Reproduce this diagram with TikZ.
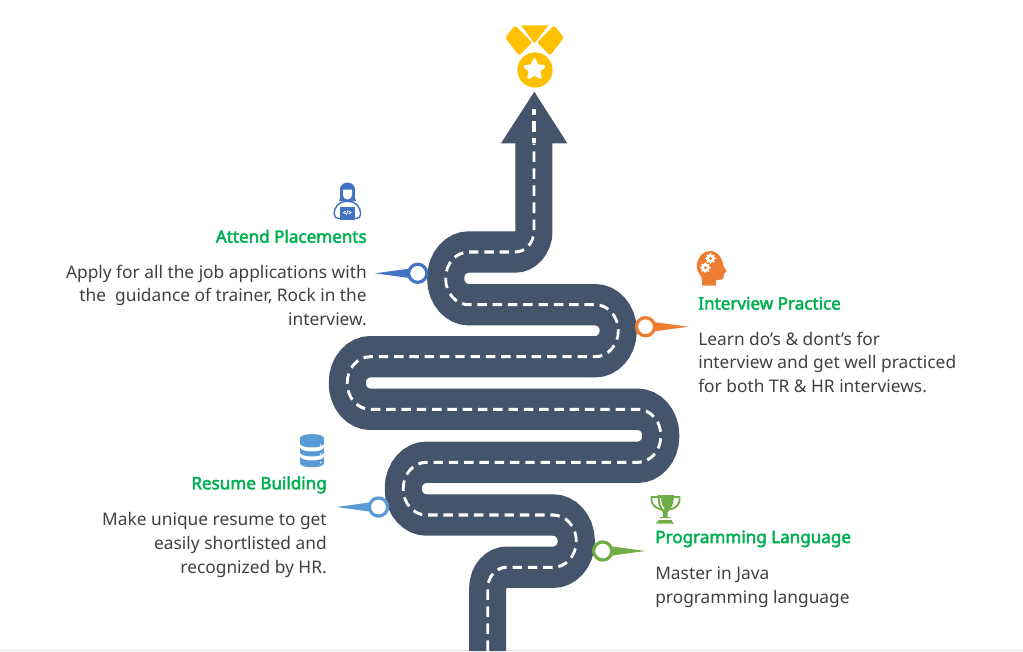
\documentclass[tikz,border=0pt]{standalone}
\usepackage{fontspec}
\setmainfont{Noto Sans}
\newfontfamily\headfont[FakeBold=2.6]{Noto Sans}
\usetikzlibrary{shapes.geometric,calc}
\definecolor{roadcol}{HTML}{44546A}
\definecolor{headcol}{HTML}{00B050}
\definecolor{textcol}{HTML}{404040}
\definecolor{medalcol}{HTML}{FFC000}
\definecolor{bluecol}{HTML}{4472C4}
\definecolor{orangecol}{HTML}{ED7D31}
\definecolor{skycol}{HTML}{5B9BD5}
\definecolor{leafcol}{HTML}{70AD47}
\tikzset{
	heading/.style={font=\headfont\fontsize{12.8}{14}\selectfont,text=headcol,inner sep=0pt},
	bodytext/.style={font=\fontsize{13}{17.8}\selectfont,text=textcol,inner sep=0pt},
	ring/.style={circle,draw=#1,fill=white,line width=2.4pt,minimum size=13.6pt,inner sep=0pt}
}
\begin{document}
\begin{tikzpicture}[x=0.75pt,y=-0.75pt]
	\useasboundingbox (0,0) rectangle (1023,651);
	% road
	\begin{scope}[transform canvas={xscale=0.896},x=0.837pt]
		\draw [roadcol,line width=31pt,rounded corners=15.75pt] (487.7,651) -- (487.7,567.3) [rounded corners=19.35pt] -- (576.3,567.3) -- (576.3,515) -- (403.3,515) -- (403.3,462.3) -- (660.8,462.3) -- (660.8,409.3) -- (347.3,409.3) -- (347.3,356.7) -- (618.3,356.7) -- (618.3,304.7) -- (445.7,304.7) -- (445.7,252) [rounded corners=15.75pt] -- (534,252) -- (534,130);
		\draw [white,line width=2.3pt,dash pattern=on 7.9pt off 4.9pt,rounded corners=15.75pt] (487.7,651) -- (487.7,567.3) [rounded corners=19.35pt] -- (576.3,567.3) -- (576.3,515) -- (403.3,515) -- (403.3,462.3) -- (660.8,462.3) -- (660.8,409.3) -- (347.3,409.3) -- (347.3,356.7) -- (618.3,356.7) -- (618.3,304.7) -- (445.7,304.7) -- (445.7,252) [rounded corners=15.75pt] -- (534,252) -- (534,143.3);
	\end{scope}
	\fill [roadcol] (501,143.3) -- (534.3,91.7) -- (567.3,143.3) -- cycle;
	\draw [white,line width=2.3pt] (534,143.3) -- (534,138) (534,131.7) -- (534,120.7) (534,115) -- (534,109);
	\draw [black!12,line width=0.75pt] (0,650.5) -- (469,650.5) (506,650.5) -- (1023,650.5);

	% medal
	\fill [medalcol] (521,25.3) -- (548.3,25.3) -- (534.5,43.3) -- cycle;
	\fill [medalcol,rounded corners=1.5pt] (515,25.5) -- (505,37.5) -- (519,55.5) -- (532,42.5) -- cycle;
	\fill [medalcol,rounded corners=1.5pt] (554,25.5) -- (564,37.5) -- (550,55.5) -- (537,42.5) -- cycle;
	\fill [white] (535,70) circle (20);
	\node [circle,fill=medalcol,minimum size=26.4pt,inner sep=0pt] (medal) at (535,70) {};
	\node [star,star points=5,star point ratio=2.1,fill=white,draw=white,line width=2pt,line join=round,minimum size=15pt,inner sep=0pt] (medalstar) at (534.5,69.5) {};

	% pins
	\node [ring=bluecol] (ringA) at (417.7,273.3) {};
	\coordinate (tipA) at (375,273.3);
	\fill [bluecol] (ringA.155) -- (tipA) -- (ringA.205) -- cycle;
	\node [ring=orangecol] (ringB) at (645.5,326.7) {};
	\coordinate (tipB) at (688.3,326.7);
	\fill [orangecol] (ringB.25) -- (tipB) -- (ringB.-25) -- cycle;
	\node [ring=skycol] (ringC) at (378.5,507) {};
	\coordinate (tipC) at (336.7,507);
	\fill [skycol] (ringC.155) -- (tipC) -- (ringC.205) -- cycle;
	\node [ring=leafcol] (ringD) at (602.7,551) {};
	\coordinate (tipD) at (645,551);
	\fill [leafcol] (ringD.25) -- (tipD) -- (ringD.-25) -- cycle;

	% coder icon
	\draw [bluecol,line width=1.1pt,rounded corners=3pt] (334.5,218.5) -- (334,209) -- (341,201.5) -- (354,201.5) -- (360.5,209) -- (360.5,218.5) -- cycle;
	\fill [bluecol] (339,201) .. controls (341,197) and (340,193) .. (340,189.5) arc [start angle=180,end angle=360,x radius=7.5,y radius=7] .. controls (355,193) and (354,197) .. (356,201) -- cycle;
	\fill [white] (343,189.5) -- (352,189.5) -- (352,195) arc [start angle=0,end angle=180,radius=4.5] -- cycle;
	\fill [bluecol] (339.5,207) rectangle (355,220);
	\node [text=white,inner sep=0pt,font=\headfont\fontsize{4.5}{5}\selectfont] (codetag) at (347.2,212.5) {</>};

	% head icon
	\fill [orangecol] (702,285.7) -- (716,285.7) -- (716,280) -- (722,279.5) .. controls (724,279) and (723.5,276) .. (724,274) -- (726.7,271) -- (723.5,266) .. controls (722,256) and (716,251) .. (711,251) .. controls (702,251) and (696.7,259) .. (696.7,267) .. controls (696.7,272) and (702,276) .. (702,280) -- cycle;
	\node [star,star points=8,star point ratio=1.5,fill=white,minimum size=8.5pt,inner sep=0pt] (gearA) at (710.5,258.5) {};
	\node [star,star points=8,star point ratio=1.5,fill=white,minimum size=8.5pt,inner sep=0pt] (gearB) at (705.3,267.7) {};
	\fill [orangecol] (gearA) circle (1.6) (gearB) circle (1.6);

	% database icon
	\fill [skycol] (300,438.3) arc [start angle=180,end angle=360,x radius=12,y radius=4.3] -- (324,443.5) arc [start angle=0,end angle=180,x radius=12,y radius=4] -- cycle;
	\fill [skycol] (300,447.5) arc [start angle=180,end angle=0,x radius=12,y radius=4] -- (324,452.5) arc [start angle=0,end angle=180,x radius=12,y radius=4] -- cycle;
	\fill [skycol] (300,456.5) arc [start angle=180,end angle=0,x radius=12,y radius=4] -- (324,463.3) arc [start angle=0,end angle=180,x radius=12,y radius=4] -- cycle;
	\fill [white] (320.7,445) circle (0.9) (320.7,454) circle (0.9) (320.7,462.5) circle (0.9);

	% trophy icon
	\draw [leafcol,line width=1.4pt] (658,497) -- (651.5,497) .. controls (650.5,503) and (654,508) .. (661,509.5) (672.5,497) -- (679.5,497) .. controls (680.5,503) and (677,508) .. (670,509.5);
	\fill [leafcol] (657.5,495) -- (674,495) .. controls (674,505) and (670,510) .. (667.5,512) -- (667.5,517) -- (670,517) -- (672,521) -- (674,523.5) -- (656,523.5) -- (658,521) -- (660,517) -- (663,517) -- (663,512) .. controls (660,510) and (657.5,505) .. (657.5,495) -- cycle;
	\draw [white,line width=0.9pt] (660.5,498) .. controls (660.5,503) and (661.5,506) .. (664,509);
	\draw [white,line width=0.8pt] (658,519) -- (673,519);

	% texts
	\node [heading,anchor=east] (headA) at (367,236.3) {Attend Placements};
	\node [bodytext,anchor=north east,align=right] (bodyA) at (367,264.5) {Apply for all the job applications with\\the\ \ guidance of trainer, Rock in the\\interview.};
	\node [heading,anchor=west] (headB) at (698,303.3) {Interview Practice};
	\node [bodytext,anchor=north west,align=left] (bodyB) at (698,331.5) {Learn do’s \& dont’s for\\interview and get well practiced\\for both TR \& HR interviews.};
	\node [heading,anchor=east] (headC) at (327,484.8) {Resume Building};
	\node [bodytext,anchor=north east,align=right] (bodyC) at (327,512.3) {Make unique resume to get\\easily shortlisted and\\recognized by HR.};
	\node [heading,anchor=west] (headD) at (655,538.8) {Programming Language};
	\node [bodytext,anchor=north west,align=left] (bodyD) at (655,566.3) {Master in Java\\programming language};
\end{tikzpicture}
\end{document}
